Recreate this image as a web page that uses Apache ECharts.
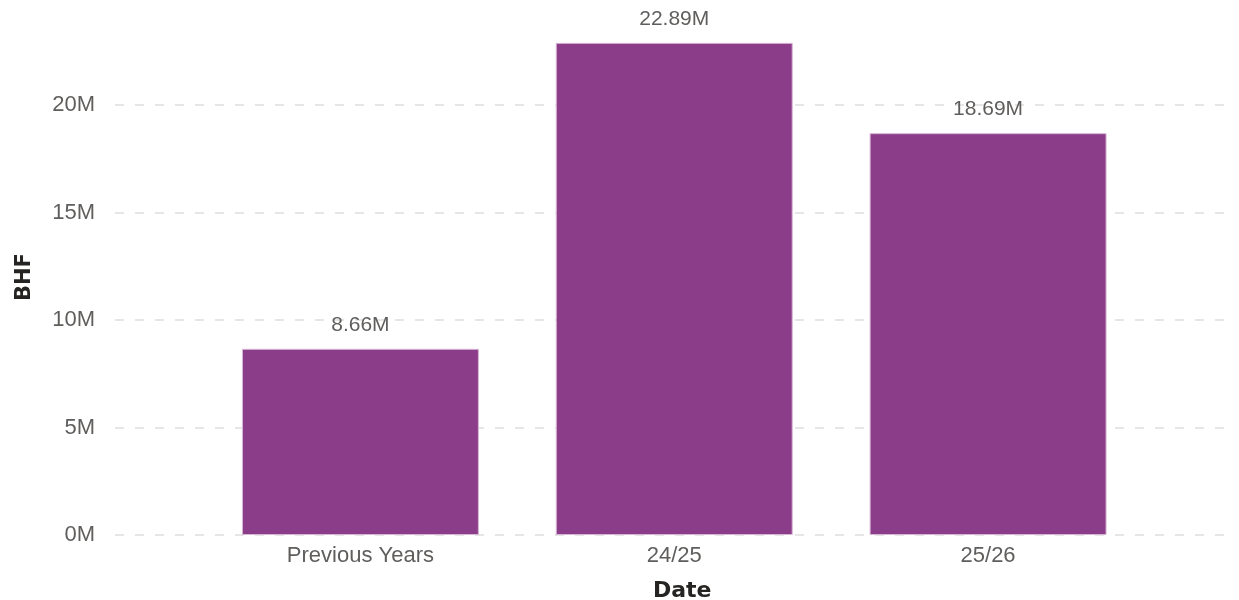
<!DOCTYPE html>
<html>
<head>
<meta charset="utf-8">
<script src="https://cdn.jsdelivr.net/npm/echarts@6/dist/echarts.min.js"></script>
<style>
  html, body { margin: 0; padding: 0; background: #fff; }
  #chart { width: 1239px; height: 600px; }
</style>
</head>
<body>
<div id="chart"></div>
<script>
// data
var categories = ['Previous Years', '24/25', '25/26']
var bhfValues = [8.66e6, 22.89e6, 18.69e6]
var yMin = 0
var yMax = 24e6
var yStep = 5e6

function fmtM(v) {
    return Math.round(v / 1e6) + 'M'
}

var myChart = echarts.init(document.getElementById('chart'))

var option = {
    animation: false,
    grid: [
        // full width grid, only for the dashed lines + y labels
        { left: 115, right: 6, top: 19, bottom: 65, outerBoundsMode: 'none', containLabel: false },
        // bar grid
        { left: 203.5, right: 94, top: 19, bottom: 65, outerBoundsMode: 'none', containLabel: false }
    ],
    xAxis: [{
        gridIndex: 0,
        type: 'category',
        data: categories,
        show: false
    }, {
        gridIndex: 1,
        type: 'category',
        data: categories,
        axisLine: { show: false },
        axisTick: { show: false },
        axisLabel: {
            color: '#605E5C',
            fontFamily: 'Liberation Sans, Arial, sans-serif',
            fontSize: 22,
            margin: 10
        },
        name: 'Date',
        nameLocation: 'middle',
        nameGap: 45,
        nameTextStyle: {
            color: '#252423',
            fontFamily: 'DejaVu Sans, sans-serif',
            fontWeight: 'bold',
            fontSize: 22,
            padding: [0, 0, 0, 16]
        }
    }],
    yAxis: [{
        gridIndex: 0,
        type: 'value',
        min: yMin,
        max: yMax,
        interval: yStep,
        axisLine: { show: false },
        axisTick: { show: false },
        axisLabel: {
            color: '#605E5C',
            fontFamily: 'Liberation Sans, Arial, sans-serif',
            fontSize: 22,
            margin: 20,
            formatter: fmtM,
            showMaxLabel: false
        },
        splitLine: {
            show: true,
            showMaxLine: false,
            lineStyle: { color: '#E6E6E6', width: 2, type: [9, 11] }
        },
        name: 'BHF',
        nameLocation: 'middle',
        nameGap: 80,
        nameTextStyle: {
            color: '#252423',
            fontFamily: 'DejaVu Sans, sans-serif',
            fontWeight: 'bold',
            fontSize: 21
        }
    }, {
        gridIndex: 1,
        type: 'value',
        min: yMin,
        max: yMax,
        interval: yStep,
        show: false,
        splitLine: { show: false }
    }],
    series: [{
        name: 'BHF',
        type: 'bar',
        xAxisIndex: 1,
        yAxisIndex: 1,
        barCategoryGap: '24.5%',
        data: bhfValues,
        itemStyle: {
            color: '#8C3D89',
            borderColor: '#D8B6D6',
            borderWidth: 1
        },
        label: {
            show: true,
            position: 'top',
            distance: 13,
            color: '#605E5C',
            fontFamily: 'Liberation Sans, Arial, sans-serif',
            fontSize: 21,
            formatter: function (p) {
                return (p.value / 1e6).toFixed(2) + 'M'
            }
        }
    }]
}

myChart.setOption(option)
</script>
</body>
</html>
